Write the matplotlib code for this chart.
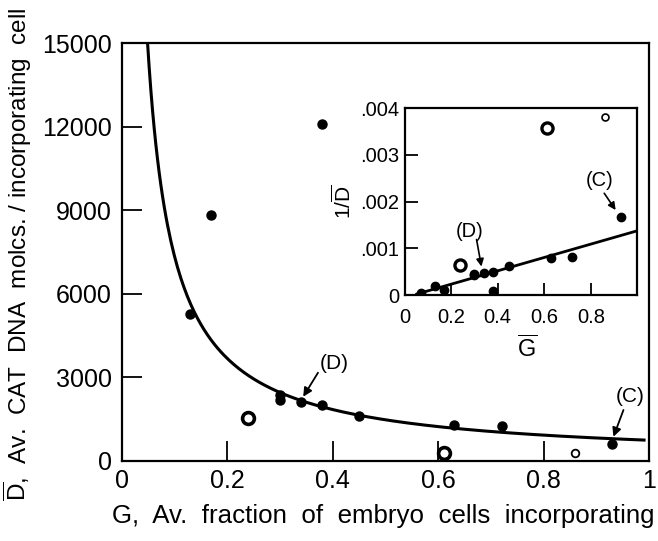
import numpy as np
import matplotlib
matplotlib.use("Agg")
import matplotlib.pyplot as plt

plt.rcParams["font.family"] = ["Liberation Sans", "DejaVu Sans"]
plt.rcParams["mathtext.fontset"] = "custom"
plt.rcParams["mathtext.rm"] = "Liberation Sans"
plt.rcParams["mathtext.it"] = "Liberation Sans"

# embryo data: G = av. fraction of cells incorporating, D = av. CAT DNA molecules / incorporating cell
g_filled = [0.07, 0.13, 0.17, 0.30, 0.30, 0.34, 0.38, 0.38, 0.45, 0.63, 0.72, 0.93]
d_filled = [25000, 5270, 8830, 2350, 2180, 2120, 2000, 12100, 1600, 1270, 1230, 600]
g_open = [0.24, 0.61]
d_open = [1550, 280]
g_small = [0.86]
d_small = [262]

# fitted relations
k_main = 735.0            # D = k / G
slope_inv = 0.00143       # 1/D = slope * G + icpt
icpt_inv = -0.000054

fig = plt.figure(figsize=(6.58, 5.41), dpi=100)
ax = fig.add_axes([0.185, 0.1484, 0.8018, 0.7716])

gg = np.linspace(0.049, 0.99, 300)
ax.plot(gg, k_main / gg, color="black", lw=2.2)
ax.plot(g_filled, d_filled, "o", color="black", ms=6.5)
ax.plot(g_open, d_open, "o", mfc="white", mec="black", mew=2.6, ms=8.5)
ax.plot(g_small, d_small, "o", mfc="white", mec="black", mew=1.3, ms=5.5)

ax.set_xlim(0, 1)
ax.set_ylim(0, 15000)
ax.set_xticks([0, 0.2, 0.4, 0.6, 0.8, 1])
ax.set_xticklabels(["0", "0.2", "0.4", "0.6", "0.8", "1"])
ax.set_yticks([0, 3000, 6000, 9000, 12000, 15000])
ax.tick_params(direction="in", length=14.5, width=1.3, labelsize=18)
ax.tick_params(axis="x", pad=6)
ax.tick_params(axis="y", pad=7)
for s in ax.spines.values():
    s.set_linewidth(1.6)

ax.text(0.495, -0.132, "G,  Av.  fraction  of  embryo  cells  incorporating",
        transform=ax.transAxes, ha="center", va="center", fontsize=18.6)
ax.text(-0.197, 0.495, r"$\overline{\mathrm{D}}$,  Av.  CAT  DNA  molcs. / incorporating  cell",
        transform=ax.transAxes, ha="center", va="center", rotation=90, fontsize=17.5)

arr = dict(arrowstyle="-|>", lw=1.3, color="black", mutation_scale=13, shrinkA=0, shrinkB=0)
ax.annotate("", xy=(0.344, 2300), xytext=(0.372, 3162), arrowprops=arr)
ax.text(0.403, 3500, "(D)", ha="center", va="center", fontsize=15)
ax.annotate("", xy=(0.932, 862), xytext=(0.951, 1822), arrowprops=arr)
ax.text(0.964, 2325, "(C)", ha="center", va="center", fontsize=15)

# inset: 1/D against G
ins = fig.add_axes([0.615, 0.4547, 0.3535, 0.3451])
gl = np.linspace(0.052, 1.0, 50)
ins.plot(gl, slope_inv * gl + icpt_inv, color="black", lw=2.0)
ins.plot(g_filled, 1 / np.array(d_filled), "o", color="black", ms=6)
ins.plot(g_open, 1 / np.array(d_open), "o", mfc="white", mec="black", mew=2.4, ms=8)
ins.plot(g_small, 1 / np.array(d_small), "o", mfc="white", mec="black", mew=1.2, ms=5)
ins.set_xlim(0, 1)
ins.set_ylim(0, 0.004)
ins.set_xticks([0, 0.2, 0.4, 0.6, 0.8])
ins.set_xticklabels(["0", "0.2", "0.4", "0.6", "0.8"])
ins.set_yticks([0, 0.001, 0.002, 0.003, 0.004])
ins.set_yticklabels(["0", ".001", ".002", ".003", ".004"])
ins.tick_params(direction="in", length=9, width=1.3, labelsize=14.5)
ins.tick_params(axis="x", pad=9)
ins.tick_params(axis="y", pad=4)
for s in ins.spines.values():
    s.set_linewidth(1.6)
ins.text(0.525, -0.29, r"$\overline{\mathrm{G}}$", transform=ins.transAxes,
         ha="center", va="center", fontsize=17)
ins.text(-0.265, 0.5, r"1/$\overline{\mathrm{D}}$", transform=ins.transAxes,
         ha="center", va="center", rotation=90, fontsize=15)

arr2 = dict(arrowstyle="-|>", lw=1.2, color="black", mutation_scale=11, shrinkA=0, shrinkB=0)
ins.annotate("", xy=(0.33, 0.00061), xytext=(0.309, 0.00119), arrowprops=arr2)
ins.text(0.28, 0.00136, "(D)", ha="center", va="center", fontsize=14.5)
ins.annotate("", xy=(0.907, 0.00182), xytext=(0.858, 0.00218), arrowprops=arr2)
ins.text(0.836, 0.00246, "(C)", ha="center", va="center", fontsize=14.5)

fig.savefig("out.png", dpi=100)
